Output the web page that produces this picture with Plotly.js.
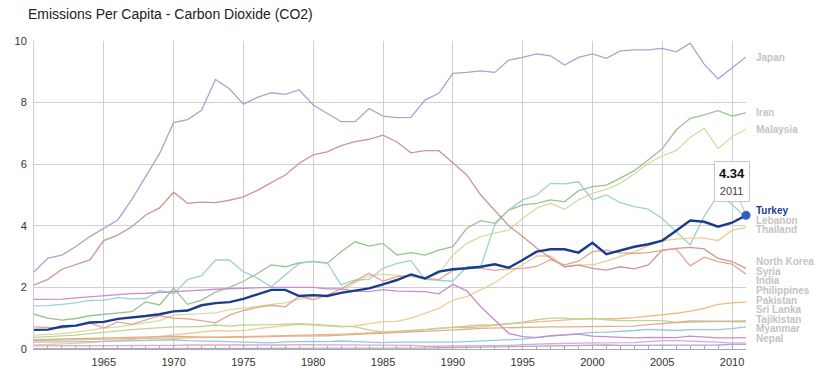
<!DOCTYPE html>
<html><head><meta charset="utf-8">
<script src="https://cdn.plot.ly/plotly-3.0.1.min.js"></script>
<style>html,body{margin:0;padding:0;background:#fff}#chart{width:825px;height:369px}</style>
</head><body><div id="chart"></div>
<script>
const years = [1960,1961,1962,1963,1964,1965,1966,1967,1968,1969,
  1970,1971,1972,1973,1974,1975,1976,1977,1978,1979,
  1980,1981,1982,1983,1984,1985,1986,1987,1988,1989,
  1990,1991,1992,1993,1994,1995,1996,1997,1998,1999,
  2000,2001,2002,2003,2004,2005,2006,2007,2008,2009,
  2010,2011];

const japan = [2.50,2.95,3.05,3.33,3.65,3.92,4.19,4.85,5.60,6.35,
  7.35,7.45,7.75,8.75,8.45,7.95,8.17,8.32,8.27,8.41,
  7.92,7.65,7.38,7.38,7.81,7.56,7.51,7.52,8.08,8.30,
  8.95,8.98,9.03,8.98,9.38,9.47,9.58,9.52,9.22,9.47,
  9.58,9.44,9.68,9.71,9.71,9.76,9.65,9.93,9.25,8.77,
  9.11,9.48];
const iran = [1.13,1.00,0.94,0.99,1.08,1.12,1.17,1.21,1.53,1.43,
  1.97,1.45,1.59,1.85,2.00,2.20,2.45,2.73,2.67,2.80,
  2.84,2.78,3.16,3.48,3.34,3.43,3.05,3.13,3.05,3.21,
  3.32,3.92,4.17,4.08,4.51,4.68,4.73,4.84,4.78,5.14,
  5.27,5.32,5.55,5.79,6.14,6.50,7.11,7.49,7.60,7.74,
  7.56,7.67];
const malaysia = [0.45,0.47,0.50,0.55,0.62,0.68,0.72,0.78,0.85,0.92,
  1.10,1.12,1.15,1.17,1.28,1.32,1.38,1.45,1.50,1.62,
  1.70,1.72,1.85,2.15,2.38,2.42,2.40,2.35,2.28,2.45,
  3.05,3.43,3.65,3.76,3.86,4.24,4.57,4.73,4.54,4.84,
  5.05,5.18,5.38,5.68,6.03,6.27,6.44,6.87,7.16,6.51,
  6.89,7.14];
const turkey = [0.62,0.63,0.73,0.76,0.86,0.88,0.98,1.02,1.07,1.13,
  1.22,1.25,1.42,1.49,1.52,1.63,1.78,1.92,1.92,1.72,
  1.75,1.72,1.82,1.89,1.97,2.10,2.24,2.42,2.29,2.51,
  2.59,2.62,2.67,2.75,2.64,2.89,3.16,3.24,3.24,3.13,
  3.45,3.08,3.21,3.32,3.40,3.52,3.84,4.17,4.13,3.97,
  4.10,4.34];
const lebanon = [1.40,1.41,1.45,1.50,1.58,1.58,1.67,1.63,1.64,1.90,
  1.79,2.25,2.38,2.89,2.89,2.51,2.30,2.02,2.40,2.78,
  2.85,2.80,2.08,2.24,2.26,2.62,2.78,2.87,2.26,2.22,
  2.20,2.67,2.67,4.03,4.51,4.84,5.00,5.38,5.36,5.43,
  4.84,5.00,4.75,4.62,4.54,4.24,3.81,3.38,4.30,5.00,
  4.70,4.25];
const thailand = [0.13,0.14,0.16,0.18,0.21,0.24,0.27,0.31,0.36,0.41,
  0.46,0.50,0.55,0.60,0.58,0.60,0.66,0.72,0.76,0.80,
  0.78,0.74,0.72,0.75,0.82,0.89,0.90,1.00,1.16,1.32,
  1.59,1.70,1.92,2.15,2.46,2.73,3.02,3.02,2.67,2.73,
  2.73,2.85,3.00,3.15,3.35,3.52,3.57,3.60,3.60,3.52,
  3.85,3.95];
const northKorea = [2.08,2.26,2.59,2.73,2.89,3.52,3.70,3.97,4.35,4.58,
  5.09,4.73,4.77,4.75,4.83,4.94,5.15,5.40,5.65,6.03,
  6.30,6.40,6.60,6.73,6.81,6.94,6.72,6.37,6.44,6.44,
  6.03,5.65,5.00,4.50,4.00,3.65,3.28,2.95,2.67,2.72,
  2.62,2.56,2.67,2.60,2.73,3.21,3.27,3.30,3.25,2.94,
  2.84,2.62];
const syria = [0.72,0.70,0.68,0.76,0.85,0.68,0.88,0.80,0.95,1.08,
  1.00,0.98,0.92,0.85,1.10,1.25,1.35,1.42,1.37,1.72,
  1.60,1.75,1.95,2.20,2.46,2.20,2.35,2.38,2.30,2.25,
  2.55,2.62,2.62,2.55,2.60,2.62,2.68,2.90,2.73,2.85,
  3.16,3.21,3.12,3.10,3.13,3.20,3.25,2.70,2.98,2.84,
  2.76,2.43];
const india = [0.27,0.28,0.30,0.31,0.31,0.33,0.33,0.33,0.35,0.35,
  0.35,0.36,0.37,0.37,0.38,0.40,0.42,0.42,0.43,0.45,
  0.45,0.47,0.48,0.50,0.52,0.55,0.58,0.60,0.63,0.67,
  0.71,0.75,0.78,0.79,0.82,0.86,0.88,0.92,0.93,0.97,
  0.97,0.97,0.99,1.02,1.06,1.10,1.16,1.23,1.32,1.45,
  1.50,1.52];
const philippines = [0.38,0.40,0.42,0.45,0.50,0.55,0.58,0.63,0.66,0.70,
  0.72,0.72,0.73,0.78,0.74,0.78,0.78,0.79,0.81,0.82,
  0.80,0.76,0.74,0.72,0.62,0.55,0.55,0.58,0.63,0.68,
  0.70,0.69,0.72,0.78,0.82,0.87,0.95,1.00,1.00,0.97,
  1.00,0.95,0.92,0.92,0.92,0.92,0.86,0.87,0.88,0.89,
  0.90,0.92];
const pakistan = [0.30,0.31,0.32,0.34,0.36,0.37,0.37,0.38,0.40,0.40,
  0.41,0.40,0.38,0.38,0.38,0.38,0.39,0.40,0.42,0.42,
  0.42,0.43,0.45,0.47,0.49,0.50,0.53,0.55,0.58,0.59,
  0.62,0.64,0.67,0.68,0.70,0.71,0.73,0.72,0.72,0.72,
  0.72,0.72,0.73,0.74,0.79,0.82,0.86,0.91,0.90,0.89,
  0.88,0.88];
const sriLanka = [0.22,0.22,0.23,0.22,0.24,0.25,0.26,0.27,0.30,0.31,
  0.30,0.27,0.26,0.25,0.22,0.21,0.21,0.20,0.23,0.25,
  0.25,0.24,0.26,0.24,0.22,0.21,0.22,0.22,0.20,0.20,
  0.22,0.24,0.26,0.28,0.29,0.32,0.38,0.42,0.44,0.48,
  0.54,0.55,0.57,0.60,0.64,0.63,0.60,0.63,0.62,0.63,
  0.66,0.72];
const tajikistan = [1.61,1.61,1.62,1.66,1.70,1.74,1.77,1.80,1.81,1.83,
  1.86,1.88,1.91,1.94,1.96,1.98,1.99,2.00,2.00,2.00,
  2.00,1.95,1.95,1.88,1.86,1.93,1.88,1.87,1.86,1.79,
  2.10,1.89,1.37,0.94,0.51,0.40,0.37,0.43,0.46,0.48,
  0.42,0.40,0.38,0.36,0.38,0.37,0.37,0.42,0.38,0.36,
  0.36,0.37];
const myanmar = [0.10,0.10,0.11,0.11,0.12,0.12,0.11,0.11,0.11,0.12,
  0.12,0.13,0.13,0.12,0.11,0.11,0.12,0.12,0.13,0.14,
  0.14,0.14,0.14,0.14,0.14,0.13,0.12,0.12,0.09,0.09,
  0.10,0.10,0.10,0.11,0.12,0.15,0.16,0.17,0.17,0.19,
  0.20,0.20,0.20,0.21,0.24,0.27,0.27,0.26,0.24,0.22,
  0.19,0.20];
const nepal = [0.01,0.01,0.01,0.01,0.01,0.01,0.01,0.01,0.01,0.01,
  0.01,0.01,0.02,0.02,0.02,0.02,0.02,0.02,0.02,0.02,
  0.02,0.02,0.02,0.02,0.03,0.03,0.03,0.03,0.03,0.04,
  0.04,0.05,0.06,0.07,0.08,0.09,0.10,0.11,0.11,0.12,
  0.13,0.13,0.12,0.12,0.12,0.11,0.11,0.11,0.11,0.13,
  0.15,0.15];

const countries = ['Japan','Iran','Malaysia','Turkey','Lebanon','Thailand','North Korea','Syria',
  'India','Philippines','Pakistan','Sri Lanka','Tajikistan','Myanmar','Nepal'];
const values = [japan, iran, malaysia, turkey, lebanon, thailand, northKorea, syria,
  india, philippines, pakistan, sriLanka, tajikistan, myanmar, nepal];
const highlighted = 'Turkey';

// styles
const colors = {
  'Japan':'#aaa3cf','Iran':'#98c292','Malaysia':'#d9dba3','Turkey':'#1b3c8c','Lebanon':'#9dd3c6',
  'Thailand':'#f4c994','North Korea':'#c99893','Syria':'#e3a58f','India':'#f1b97f',
  'Philippines':'#bcd595','Pakistan':'#dcb08f','Sri Lanka':'#90cbdc','Tajikistan':'#c490cc',
  'Myanmar':'#e3a6c9','Nepal':'#acabd8'
};

const traces = [];
countries.forEach((c,i) => {
  if (c === highlighted) return;
  traces.push({x: years, y: values[i], type:'scatter', mode:'lines', name:c,
    line:{color:colors[c], width:1.3}, hoverinfo:'skip'});
});
const hi = countries.indexOf(highlighted);
traces.push({x: years, y: values[hi], type:'scatter', mode:'lines', name:highlighted,
  line:{color:colors[highlighted], width:2.4}, hoverinfo:'skip'});
const lastYear = years[years.length-1];
const lastVal = values[hi][values[hi].length-1];
traces.push({x:[lastYear], y:[lastVal], type:'scatter', mode:'markers', cliponaxis:false,
  marker:{color:'#2f5fc8', size:9}, hoverinfo:'skip'});

// end labels: spread to avoid overlap
const gap = 0.31, minY = 0.35;
const items = countries.map((c,i) => ({name:c, v: values[i][values[i].length-1]}))
  .sort((a,b) => b.v - a.v);
let groups = items.map(it => ({members:[it], center: it.v}));
let changed = true;
while (changed) {
  changed = false;
  for (const g of groups) {
    const bottom = g.center - (g.members.length-1)/2*gap;
    if (bottom < minY) g.center += (minY - bottom);
  }
  for (let i=0;i<groups.length-1;i++) {
    const a = groups[i], b = groups[i+1];
    const aBottom = a.center - (a.members.length-1)/2*gap;
    const bTop = b.center + (b.members.length-1)/2*gap;
    if (aBottom - bTop < gap - 1e-9) {
      const members = a.members.concat(b.members);
      const center = members.reduce((s,m)=>s+m.v,0)/members.length;
      groups.splice(i,2,{members, center});
      changed = true; break;
    }
  }
}
const annotations = [];
groups.forEach(g => {
  const n = g.members.length;
  g.members.forEach((m,i) => {
    const y = g.center + ((n-1)/2 - i)*gap;
    annotations.push({x:lastYear, y:y, xref:'x', yref:'y', text:m.name, showarrow:false,
      xanchor:'left', yanchor:'middle', xshift:9, borderpad:0,
      font:{family:'Arial, Liberation Sans, sans-serif', size:10,
        color: m.name===highlighted ? '#1b3c8c' : '#c4c4c4', weight:'bold'}});
  });
});
// tooltip
annotations.push({x:lastYear, y:lastVal, xref:'x', yref:'y',
  text:'<b>'+lastVal.toFixed(2)+'</b><br><span style="font-size:11px;color:#444">'+lastYear+'</span>',
  showarrow:true, arrowhead:0, arrowwidth:1, arrowcolor:'#bbb', ax:-14, ay:-34, standoff:4,
  bgcolor:'#fff', bordercolor:'#c8c8c8', borderwidth:1, borderpad:4,
  font:{family:'Arial, Liberation Sans, sans-serif', size:13, color:'#111'}});

const layout = {
  width:825, height:369,
  margin:{l:34, r:79, t:41, b:20, pad:0},
  paper_bgcolor:'#fff', plot_bgcolor:'#fff',
  showlegend:false, hovermode:false,
  font:{family:'Arial, Liberation Sans, sans-serif', size:11, color:'#333'},
  title:{text:'Emissions Per Capita - Carbon Dioxide (CO2)', xref:'container', yref:'container',
    x:28/825, xanchor:'left', y:1-14/369, yanchor:'middle',
    font:{family:'Arial, Liberation Sans, sans-serif', size:14, color:'#222'}},
  xaxis:{range:[1960,2011], tickvals:[1965,1970,1975,1980,1985,1990,1995,2000,2005,2010],
    showgrid:true, gridcolor:'#cfcfcf', gridwidth:1, zeroline:false,
    showline:true, linecolor:'#aaa', linewidth:1, ticks:'inside', ticklen:4, tickcolor:'#aaa',
    ticklabelstandoff:3,
    minor:{dtick:1, tick0:1960, ticks:'inside', ticklen:3, tickcolor:'#aaa', showgrid:false},
    tickfont:{size:11, color:'#333'}, fixedrange:true},
  yaxis:{range:[0,10], tickvals:[0,2,4,6,8,10], showgrid:true, gridcolor:'#cfcfcf', gridwidth:1,
    zeroline:false, showline:true, linecolor:'#cfcfcf', ticks:'', ticklabelstandoff:4,
    tickfont:{size:11, color:'#333'}, fixedrange:true},
  annotations: annotations
};
Plotly.newPlot('chart', traces, layout, {displayModeBar:false, staticPlot:true});
</script></body></html>
